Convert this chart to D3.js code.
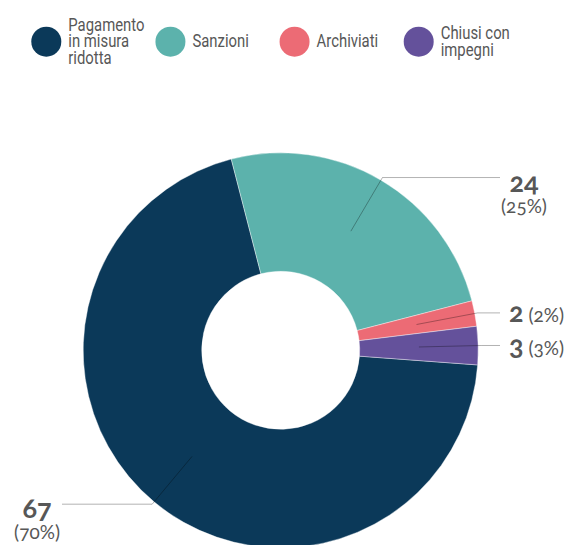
<!DOCTYPE html>
<html>
<head>
<meta charset="utf-8">
<script src="https://cdn.jsdelivr.net/npm/d3@7"></script>
<style>
  html, body { margin: 0; padding: 0; background: #fff; }
  svg { display: block; }
  .legend text { font-family: Roboto, "Noto Sans", sans-serif; font-size: 17.5px; fill: #575757; }
  .lbl { font-family: Lato, "Open Sans", sans-serif; fill: #575757; font-variant-numeric: oldstyle-nums; }
  .lbl .num { font-weight: 700; font-size: 27px; }
  .lbl .pct { font-weight: 400; font-size: 19px; }
</style>
</head>
<body>
<svg id="chart" width="571" height="545"></svg>
<script>
// Closed proceedings by outcome
const categories = ["Pagamento in misura ridotta", "Sanzioni", "Archiviati", "Chiusi con impegni"];
const legendLines = [["Pagamento", "in misura", "ridotta"], ["Sanzioni"], ["Archiviati"], ["Chiusi con", "impegni"]];
const values = [67, 24, 2, 3];
const colors = ["#0b3959", "#5cb2ac", "#ec6b75", "#64519b"];

const W = 571, H = 545;
const cx = 280.7, cy = 350.3;
const outerR = 197.5, innerR = 79;
const startDeg = 94.25;

const svg = d3.select("#chart");
const total = d3.sum(values);

// Legend (condensed labels)
const legend = svg.append("g").attr("class", "legend");
const legendX = d3.scalePoint().domain(categories).range([46.3, 418.7]);
categories.forEach((c, i) => {
  const g = legend.append("g").attr("transform", `translate(${legendX(c)},41.7)`);
  g.append("circle").attr("r", 15).attr("fill", colors[i]);
  const lines = legendLines[i];
  const t = g.append("text").attr("transform", "translate(22,0) scale(0.85,1)");
  lines.forEach((ln, j) => {
    t.append("tspan").attr("x", 0)
      .attr("y", 5.5 + (j - (lines.length - 1) / 2) * 16.6)
      .text(ln);
  });
});

// Donut
const pie = d3.pie().sort(null).value(d => d)
  .startAngle(startDeg * Math.PI / 180)
  .endAngle(startDeg * Math.PI / 180 + 2 * Math.PI);
const arcs = pie(values);
const arc = d3.arc().innerRadius(innerR).outerRadius(outerR);
const mid = d3.arc().innerRadius((innerR + outerR) / 2).outerRadius((innerR + outerR) / 2);

const g = svg.append("g").attr("transform", `translate(${cx},${cy})`);
g.selectAll("path.slice").data(arcs).join("path")
  .attr("class", "slice")
  .attr("d", arc)
  .attr("fill", (d, i) => colors[i])
  .attr("stroke", "#fff").attr("stroke-width", 0.4);

// Leader lines and value labels
const elbowR = 200.5;
const rightEnd = 500 - cx, leftEnd = 62 - cx;
arcs.forEach((d, i) => {
  const a = (d.startAngle + d.endAngle) / 2;
  const [x0, y0] = mid.centroid(d);
  const x1 = elbowR * Math.sin(a), y1 = -elbowR * Math.cos(a);
  const right = x1 > 0;
  const x2 = right ? rightEnd : leftEnd;
  g.append("polyline")
    .attr("points", [[x0, y0], [x1, y1], [x2, y1]].map(p => p.join(",")).join(" "))
    .attr("fill", "none").attr("stroke", "#000").attr("stroke-opacity", 0.3).attr("stroke-width", 1);

  const pct = "(" + Math.round(values[i] / total * 100) + "%)";
  const big = values[i] / total > 0.1;
  const t = g.append("text").attr("class", "lbl");
  if (big) {
    const tx = right ? x2 + 24 : x2 - 25;
    t.attr("text-anchor", "middle");
    t.append("tspan").attr("class", "num").attr("x", tx).attr("y", y1 + 14).text(values[i]);
    t.append("tspan").attr("class", "pct").attr("x", tx).attr("y", y1 + 35).text(pct);
  } else {
    t.attr("x", x2 + 9).attr("y", y1 + 9);
    t.append("tspan").attr("class", "num").text(values[i]);
    t.append("tspan").attr("class", "pct").text("\u00a0" + pct);
  }
});
</script>
</body>
</html>
